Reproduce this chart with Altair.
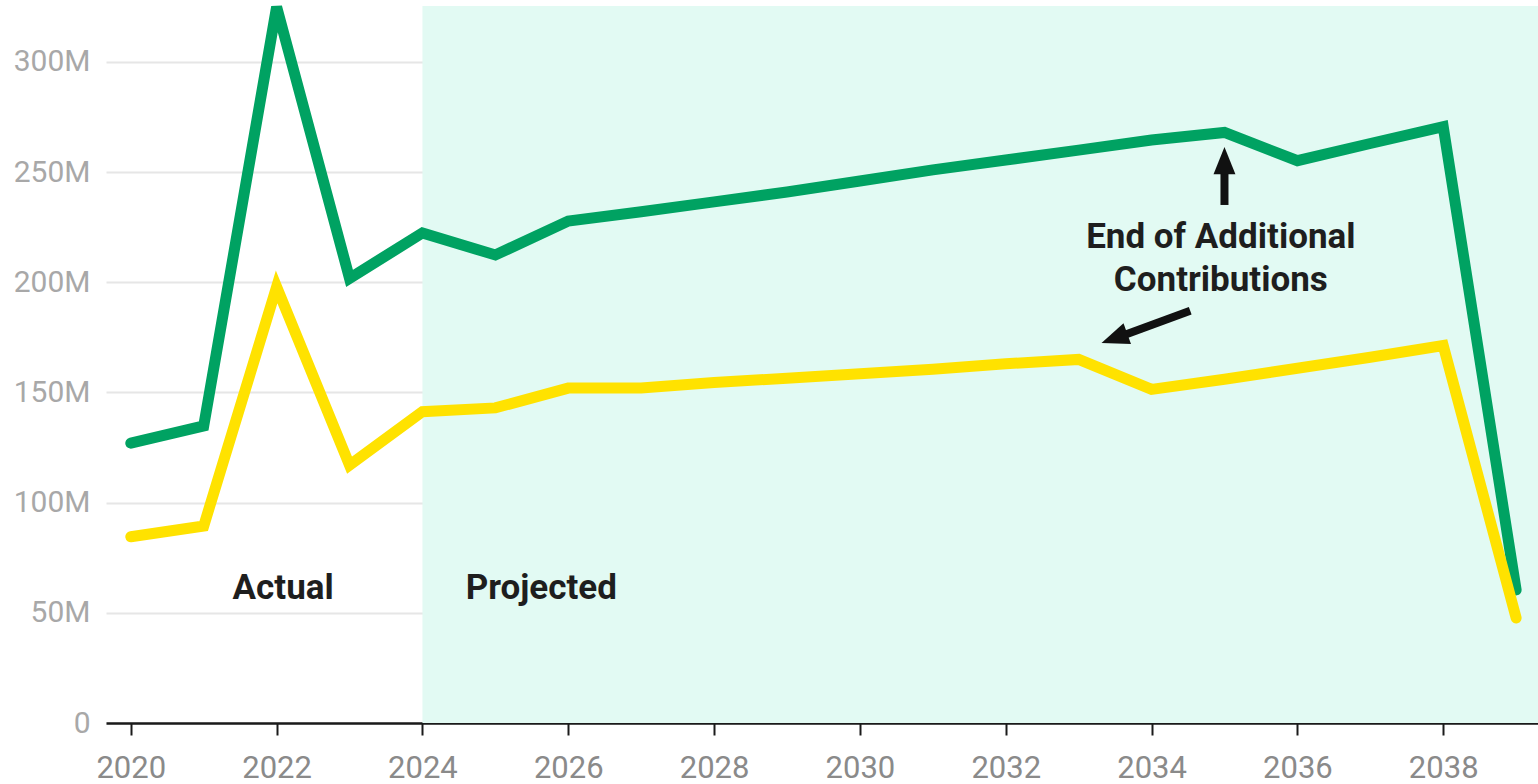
import altair as alt
import pandas as pd

years = list(range(2020, 2040))
total = [127, 134.8, 325, 201.8, 222.4, 212.4, 227.8, 232, 236.5, 241, 246, 251, 255.5, 260,
         264.6, 268, 255.2, 263, 270.6, 60.4]
base = [84.5, 89.4, 197.9, 117, 141.3, 143, 152, 152, 154.5, 156.5, 158.5, 160.5, 163, 165,
        151.4, 156, 161, 166, 171.3, 47.7]

# annotation content (data coordinates)
label_text = ["Actual", "Projected", "End of Additional", "Contributions"]
label_x = [2022.09, 2025.63, 2034.95, 2034.95]
label_y = [61.3, 61.3, 220.6, 201.1]

arrow_x = [2035.0, 2034.53]
arrow_y = [235.1, 187.1]
arrow_x2 = [2035.0, 2033.57]
arrow_y2 = [251.0, 175.4]
head_x = [2035.0, 2033.49]
head_y = [255.2, 174.6]
head_angle = [0, 250]

x_ticks = list(range(2020, 2040, 2))
y_ticks = [0, 50e6, 100e6, 150e6, 200e6, 250e6, 300e6]

proj_start = 2024
X_DOM = [2019.66, 2039.30]
Y_DOM = [0, 325.4e6]

GREEN = "#00a262"
YELLOW = "#ffe200"

df = pd.DataFrame({
    "year": years * 2,
    "value": [v * 1e6 for v in total] + [v * 1e6 for v in base],
    "series": ["Total"] * len(years) + ["Base"] * len(years),
})
lab = pd.DataFrame({"t": label_text, "x": label_x, "y": [v * 1e6 for v in label_y]})
arr = pd.DataFrame({"x": arrow_x, "y": [v * 1e6 for v in arrow_y],
                    "x2": arrow_x2, "y2": [v * 1e6 for v in arrow_y2]})
heads = pd.DataFrame({"x": head_x, "y": [v * 1e6 for v in head_y], "a": head_angle})
shade = pd.DataFrame({"x": [proj_start], "x2": [X_DOM[1]], "y": [Y_DOM[0]], "y2": [Y_DOM[1]]})

xs = alt.Scale(domain=X_DOM, nice=False, zero=False)
ys = alt.Scale(domain=Y_DOM, nice=False)

XAX = alt.Axis(
    values=x_ticks, format="d", title=None, grid=False,
    domainColor="#1a1a1a", domainWidth=2.5, tickColor="#1a1a1a", tickWidth=2, tickSize=12,
    labelFontSize=31, labelColor="#8a8a8a", labelPadding=18, labelFont="Roboto")
YAX = alt.Axis(
    values=y_ticks,
    labelExpr="datum.value == 0 ? '0' : format(datum.value / 1e6, 'd') + 'M'",
    title=None, domain=False, ticks=False, gridColor="#e6e6e6", gridWidth=2,
    labelFontSize=30, labelColor="#a8a8a8", labelPadding=16, labelFont="Roboto")


def X(f):
    return alt.X(f, scale=xs, axis=XAX)


def Y(f):
    return alt.Y(f, scale=ys, axis=YAX)


bg = alt.Chart(shade).mark_rect(color="#e2faf3").encode(
    x=X("x:Q"), x2="x2:Q", y=Y("y:Q"), y2="y2:Q")

lines = alt.Chart(df).mark_line(strokeWidth=11, strokeJoin="miter", strokeCap="round").encode(
    x=X("year:Q"),
    y=Y("value:Q"),
    color=alt.Color("series:N", scale=alt.Scale(domain=["Total", "Base"], range=[GREEN, YELLOW]),
                    legend=None),
    detail="series:N",
)

texts = alt.Chart(lab).mark_text(fontSize=35, fontWeight="bold", font="Roboto", color="#1e1e1e",
                                 align="center", baseline="middle").encode(
    x=X("x:Q"), y=Y("y:Q"), text="t:N")

shafts = alt.Chart(arr).mark_rule(strokeWidth=8, color="#111111").encode(
    x=X("x:Q"), y=Y("y:Q"), x2="x2:Q", y2="y2:Q")

arrowheads = alt.Chart(heads).mark_point(
    shape="M-1,1.25L0,-1.25L1,1.25Z", size=480, filled=True, color="#111111", opacity=1,
    strokeWidth=0).encode(
    x=X("x:Q"), y=Y("y:Q"), angle=alt.Angle("a:Q", scale=None))

chart = alt.layer(bg, lines, shafts, arrowheads, texts).properties(
    width=1432, height=717,
    autosize=alt.AutoSizeParams(type="none"),
    padding={"left": 106, "top": 6, "right": 0, "bottom": 61},
    view=alt.ViewBackground(strokeWidth=0, strokeOpacity=0),
).configure_view(strokeWidth=0, strokeOpacity=0
).configure_axisY(domain=False, domainOpacity=0
).configure_axisX(grid=False, gridOpacity=0
).configure(background="white")

chart.save("out.html", embed_options={"renderer": "svg", "actions": False})
